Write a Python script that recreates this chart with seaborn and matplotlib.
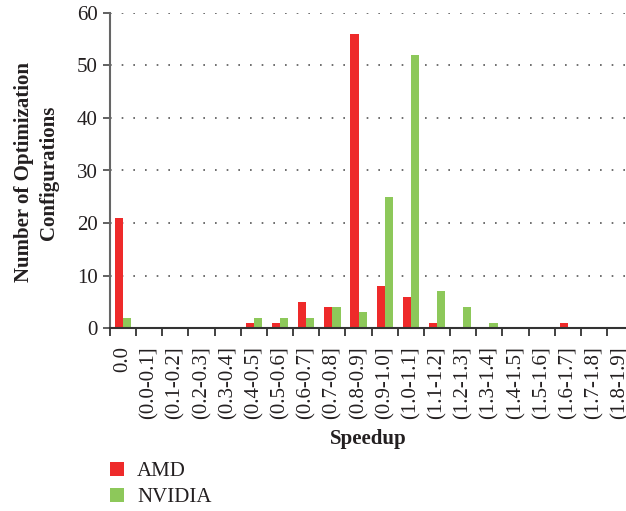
import matplotlib
matplotlib.use("Agg")
import matplotlib.pyplot as plt
import seaborn as sns
import pandas as pd
from matplotlib.patches import Patch

categories = ["0.0", "(0.0-0.1]", "(0.1-0.2]", "(0.2-0.3]", "(0.3-0.4]", "(0.4-0.5]",
              "(0.5-0.6]", "(0.6-0.7]", "(0.7-0.8]", "(0.8-0.9]", "(0.9-1.0]", "(1.0-1.1]",
              "(1.1-1.2]", "(1.2-1.3]", "(1.3-1.4]", "(1.4-1.5]", "(1.5-1.6]", "(1.6-1.7]",
              "(1.7-1.8]", "(1.8-1.9]"]
amd = [21, 0, 0, 0, 0, 1, 1, 5, 4, 56, 8, 6, 1, 0, 0, 0, 0, 1, 0, 0]
nvidia = [2, 0, 0, 0, 0, 2, 2, 2, 4, 3, 25, 52, 7, 4, 1, 0, 0, 0, 0, 0]
series = ["AMD", "NVIDIA"]
colors = {"AMD": "#EE2A2A", "NVIDIA": "#8DC85A"}

df = pd.DataFrame({
    "Speedup": categories * 2,
    "Count": amd + nvidia,
    "Series": ["AMD"] * len(categories) + ["NVIDIA"] * len(categories),
})

sns.set_theme(style="white")
plt.rcParams["font.family"] = ["Liberation Serif", "DejaVu Serif"]

text_color = "#231f20"
fig = plt.figure(figsize=(6.26, 5.11), dpi=100)
ax = fig.add_axes([110 / 626, (511 - 328) / 511, 1 - 110 / 626, (328 - 13) / 511])

sns.barplot(data=df, x="Speedup", y="Count", hue="Series", order=categories,
            hue_order=series, palette=colors, width=0.62, saturation=1,
            linewidth=0, ax=ax, legend=False)

ax.set_ylim(0, 60)
ax.set_yticks(range(0, 61, 10))
ax.set_xlim(-0.5, 19.22)
ax.set_xticks([i - 0.5 for i in range(20)], minor=False)
ax.set_xticklabels([])
ax.set_xticks(range(20), minor=True)
ax.set_xticklabels(categories, minor=True, rotation=90, fontsize=15, color=text_color)
ax.tick_params(axis="x", which="minor", length=0, pad=13)
ax.tick_params(axis="x", which="major", length=6, width=1.3, color="#333333", direction="out", bottom=True)
ax.tick_params(axis="y", length=5, width=1.3, color="#555555", direction="out", left=True,
               labelsize=15, labelcolor=text_color, pad=4)

for y in range(10, 61, 10):
    ax.axhline(y, color="#555555", linewidth=1.2, linestyle=(0, (1, 6)), zorder=0)

for s in ["top", "right"]:
    ax.spines[s].set_visible(False)
ax.spines["left"].set_color("#666666")
ax.spines["left"].set_linewidth(1.5)
ax.spines["bottom"].set_color("#333333")
ax.spines["bottom"].set_linewidth(1.5)

ax.set_xlabel("Speedup", fontsize=15, fontweight="bold", color=text_color)
ax.xaxis.set_label_coords(0.5, (328 - 429) / 315)
ax.set_ylabel("Number of Optimization\nConfigurations", fontsize=15, fontweight="bold",
              color=text_color, linespacing=1.3)
ax.yaxis.set_label_coords((59 - 110) / 516, 0.494)

handles = [Patch(facecolor=colors[s], edgecolor="none") for s in series]
fig.legend(handles, series, loc="upper left", bbox_to_anchor=(110 / 626, (511 - 462) / 511),
           frameon=False, borderpad=0, borderaxespad=0,
           fontsize=15, handlelength=0.67, handleheight=0.67, handletextpad=0.62,
           labelspacing=0.3, labelcolor=text_color)

fig.savefig("out.png", dpi=100)
